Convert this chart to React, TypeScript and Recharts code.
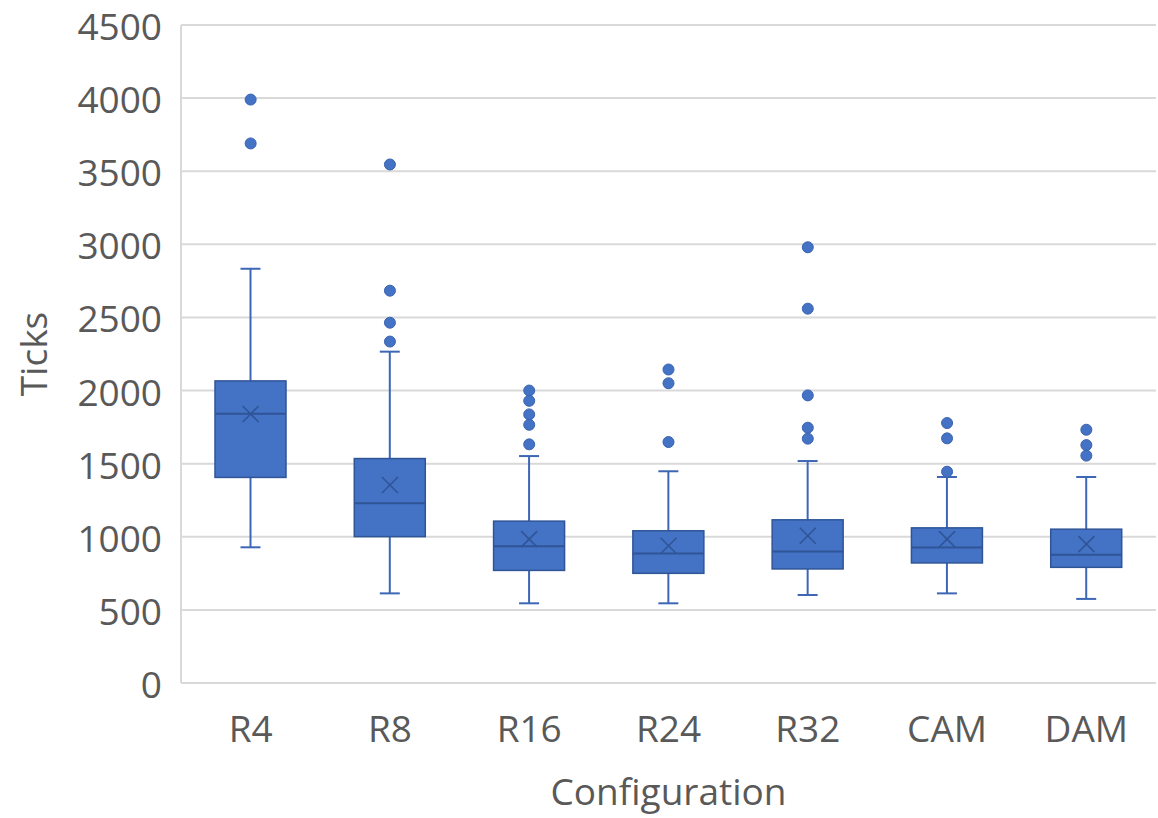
import React from 'react';
import { ComposedChart, Bar, Line, XAxis, YAxis, CartesianGrid } from 'recharts';

const categories = ['R4', 'R8', 'R16', 'R24', 'R32', 'CAM', 'DAM'];
const mins = [928, 613, 545, 545, 602, 613, 575];
const q1s = [1406, 1001, 770, 750, 780, 821, 791];
const medians = [1841, 1229, 936, 886, 900, 927, 877];
const q3s = [2066, 1535, 1107, 1041, 1116, 1061, 1052];
const maxs = [2833, 2266, 1552, 1448, 1518, 1409, 1409];
const means = [1840, 1354, 984, 939, 1007, 984, 950];
const outliers = [
  [3990, 3690],
  [3546, 2683, 2464, 2335],
  [2000, 1930, 1837, 1766, 1632],
  [2144, 2050, 1648],
  [2980, 2560, 1967, 1746, 1671],
  [1778, 1673, 1445],
  [1732, 1627, 1555],
];
const yTicks = [0, 500, 1000, 1500, 2000, 2500, 3000, 3500, 4000, 4500];

const outlierKeys = ['o1', 'o2', 'o3', 'o4', 'o5'];

const data = categories.map((name, i) => {
  const row: any = {
    name,
    range: [mins[i], maxs[i]],
    min: mins[i],
    q1: q1s[i],
    median: medians[i],
    q3: q3s[i],
    max: maxs[i],
    mean: means[i],
  };
  outlierKeys.forEach((k, j) => {
    row[k] = outliers[i][j] !== undefined ? outliers[i][j] : null;
  });
  return row;
});

const FONT = '"Open Sans", sans-serif';
const TEXT = '#595959';
const FILL = '#4472C4';
const DARK = '#2F5597';
const WHISK = '#3D67B5';

const BoxShape = (props: any) => {
  const { x, y, width, height, payload } = props;
  if (x == null || y == null || !payload) return null;
  const top = Math.min(y, y + height);
  const bottom = Math.max(y, y + height);
  const ppu = (bottom - top) / (payload.max - payload.min);
  const py = (v: number) => bottom - (v - payload.min) * ppu;
  const cx = x + width / 2;
  const cap = 10;
  const yq1 = py(payload.q1);
  const yq3 = py(payload.q3);
  const ymed = py(payload.median);
  return (
    <g>
      <line x1={cx} x2={cx} y1={py(payload.max)} y2={yq3} stroke={WHISK} strokeWidth={2} />
      <line x1={cx} x2={cx} y1={yq1} y2={py(payload.min)} stroke={WHISK} strokeWidth={2} />
      <line x1={cx - cap} x2={cx + cap} y1={py(payload.max)} y2={py(payload.max)} stroke={WHISK} strokeWidth={2} />
      <line x1={cx - cap} x2={cx + cap} y1={py(payload.min)} y2={py(payload.min)} stroke={WHISK} strokeWidth={2} />
      <rect x={x} y={yq3} width={width} height={yq1 - yq3} fill={FILL} stroke={DARK} strokeWidth={1.5} />
      <line x1={x} x2={x + width} y1={ymed} y2={ymed} stroke={DARK} strokeWidth={2} />
    </g>
  );
};

const MeanDot = (props: any) => {
  const { cx, cy, index } = props;
  if (cx == null || cy == null || isNaN(cy)) return <g key={`m${index}`} />;
  const s = 8;
  return (
    <g key={`m${index}`}>
      <line x1={cx - s} y1={cy - s} x2={cx + s} y2={cy + s} stroke={DARK} strokeWidth={1.6} />
      <line x1={cx - s} y1={cy + s} x2={cx + s} y2={cy - s} stroke={DARK} strokeWidth={1.6} />
    </g>
  );
};

const OutlierDot = (props: any) => {
  const { cx, cy, index, dataKey } = props;
  if (cx == null || cy == null || isNaN(cy)) return <g key={`${dataKey}${index}`} />;
  return <circle key={`${dataKey}${index}`} cx={cx} cy={cy} r={5.5} fill={FILL} stroke="#3A62AE" strokeWidth={1} />;
};

const YTick = (props: any) => {
  const { x, y, payload } = props;
  return (
    <text x={x} y={y + 15} textAnchor="end" fill={TEXT} fontSize={37} fontFamily={FONT}>
      {payload.value}
    </text>
  );
};

export default function App() {
  return (
    <div style={{ position: 'absolute', left: 0, top: 0, width: 1158, height: 818, background: '#fff' }}>
      <ComposedChart
        width={1158}
        height={818}
        data={data}
        margin={{ top: 25, right: 2, bottom: 0, left: 0 }}
      >
        <CartesianGrid vertical={false} stroke="#D9D9D9" strokeWidth={2} />
        <XAxis
          dataKey="name"
          type="category"
          tickLine={false}
          tickSize={0}
          tickMargin={33}
          height={135}
          axisLine={{ stroke: '#D9D9D9', strokeWidth: 2 }}
          tick={{ fill: TEXT, fontSize: 37, fontFamily: FONT }}
          label={{
            content: (p: any) => {
              const vb = p.viewBox;
              return (
                <text
                  x={vb.x + vb.width / 2}
                  y={805}
                  textAnchor="middle"
                  fill={TEXT}
                  fontSize={37}
                  fontFamily={FONT}
                >
                  Configuration
                </text>
              );
            },
          }}
        />
        <YAxis
          type="number"
          domain={[0, 4500]}
          ticks={yTicks}
          interval={0}
          width={181}
          tickLine={false}
          tickSize={0}
          tickMargin={19}
          axisLine={{ stroke: '#D9D9D9', strokeWidth: 2 }}
          tick={YTick}
          label={{
            content: (p: any) => {
              const vb = p.viewBox;
              const cy = vb.y + vb.height / 2;
              return (
                <text
                  x={47}
                  y={cy}
                  transform={`rotate(-90, 47, ${cy})`}
                  textAnchor="middle"
                  fill={TEXT}
                  fontSize={37}
                  fontFamily={FONT}
                >
                  Ticks
                </text>
              );
            },
          }}
        />
        <Bar dataKey="range" barSize={71} shape={BoxShape} isAnimationActive={false} />
        <Line
          dataKey="mean"
          stroke="none"
          dot={MeanDot}
          activeDot={false}
          isAnimationActive={false}
        />
        {outlierKeys.map((k) => (
          <Line
            key={k}
            dataKey={k}
            stroke="none"
            dot={OutlierDot}
            activeDot={false}
            connectNulls={false}
            isAnimationActive={false}
          />
        ))}
      </ComposedChart>
    </div>
  );
}
